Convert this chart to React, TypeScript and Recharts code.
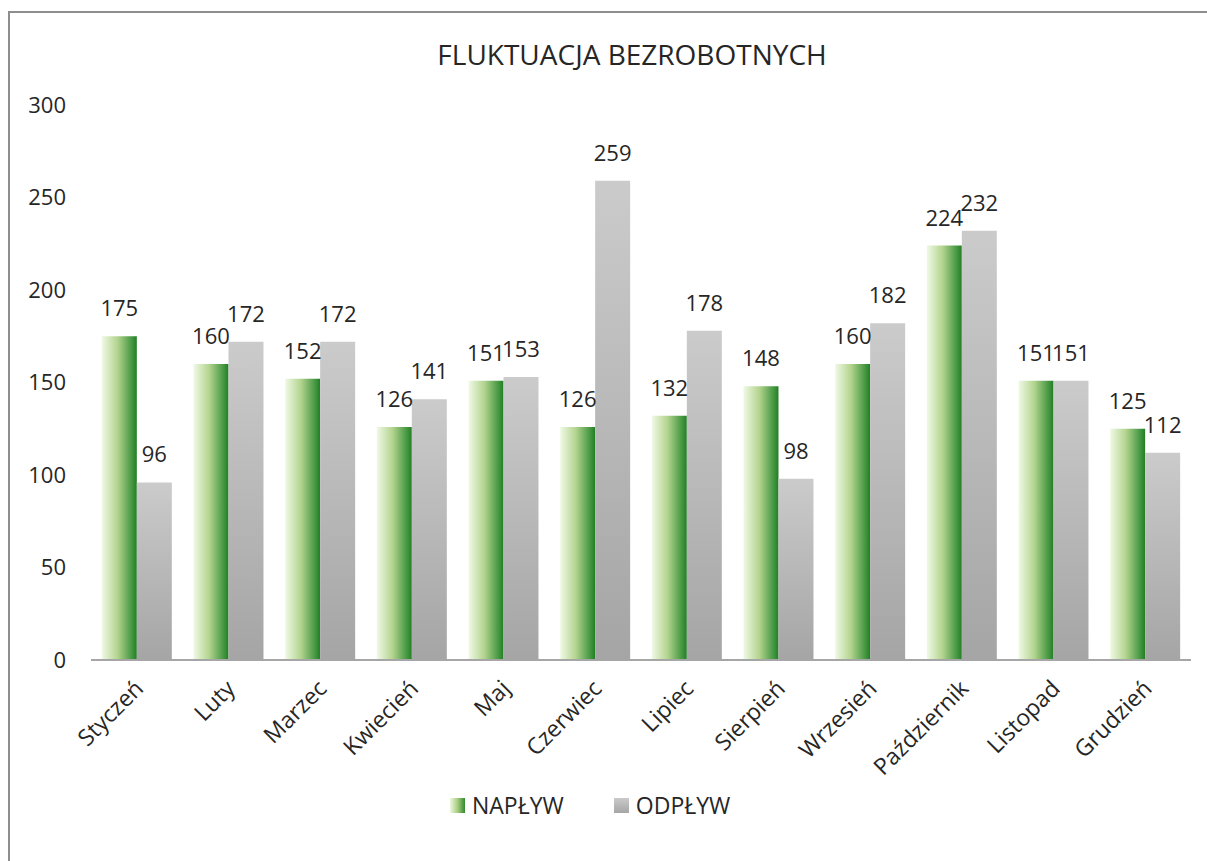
import { BarChart, Bar, XAxis, YAxis, Legend, LabelList } from "recharts"

const months = [
  "Styczeń",
  "Luty",
  "Marzec",
  "Kwiecień",
  "Maj",
  "Czerwiec",
  "Lipiec",
  "Sierpień",
  "Wrzesień",
  "Październik",
  "Listopad",
  "Grudzień",
]
const naplyw = [175, 160, 152, 126, 151, 126, 132, 148, 160, 224, 151, 125]
const odplyw = [96, 172, 172, 141, 153, 259, 178, 98, 182, 232, 151, 112]
const yTicks = [0, 50, 100, 150, 200, 250, 300]

const data = months.map((m, i) => ({ month: m, naplyw: naplyw[i], odplyw: odplyw[i] }))

const FONT = "'Open Sans', sans-serif"
const TEXT = "#262626"

const MonthTick = (props: any) => {
  const { x, y, payload } = props
  return (
    <text
      x={0}
      y={0}
      transform={`translate(${x + 8},${y + 30}) rotate(-45)`}
      textAnchor="end"
      fill={TEXT}
      fontSize={23}
      fontFamily={FONT}
    >
      {payload.value}
    </text>
  )
}

const LegendBox = () => (
  <div style={{ display: "flex", alignItems: "center", fontFamily: FONT, fontSize: 23, color: TEXT }}>
    <span
      style={{
        width: 15,
        height: 15,
        marginRight: 7,
        background: "linear-gradient(to right, #eef8e2, #a9cd80, #2e8a2e)",
      }}
    />
    <span style={{ marginRight: 50 }}>NAPŁYW</span>
    <span
      style={{
        width: 15,
        height: 15,
        marginRight: 7,
        background: "linear-gradient(to bottom, #cacaca, #a6a6a6)",
      }}
    />
    <span>ODPŁYW</span>
  </div>
)

export default function App() {
  return (
    <div
      style={{
        position: "absolute",
        left: 8,
        top: 11,
        borderTop: "2px solid #8e8e8e",
        borderLeft: "2px solid #8e8e8e",
        background: "#fff",
      }}
    >
      <BarChart
        width={1197}
        height={848}
        data={data}
        margin={{ top: 92, right: 16, bottom: 171, left: 6 }}
        barCategoryGap="11.8%"
        barGap={0}
      >
        <defs>
          <linearGradient id="gGreen" x1="0" y1="0" x2="1" y2="0">
            <stop offset="0%" stopColor="#f0f9e6" />
            <stop offset="45%" stopColor="#b3d48e" />
            <stop offset="90%" stopColor="#3a913a" />
            <stop offset="100%" stopColor="#227d22" />
          </linearGradient>
          <linearGradient id="gGray" x1="0" y1="0" x2="0" y2="1">
            <stop offset="0%" stopColor="#cbcbcb" />
            <stop offset="100%" stopColor="#a5a5a5" />
          </linearGradient>
        </defs>
        <text
          x={622}
          y={45}
          textAnchor="middle"
          dominantBaseline="middle"
          fontFamily={FONT}
          fontSize={28}
          fill={TEXT}
        >
          FLUKTUACJA BEZROBOTNYCH
        </text>
        <XAxis
          dataKey="month"
          axisLine={{ stroke: "#a6a6a6", strokeWidth: 2 }}
          tickLine={false}
          tickSize={0}
          tickMargin={0}
          interval={0}
          tick={<MonthTick />}
        />
        <YAxis
          domain={[0, 300]}
          ticks={yTicks}
          axisLine={false}
          tickLine={false}
          tickSize={0}
          tickMargin={25}
          width={75}
          tick={{ fill: TEXT, fontSize: 22, fontFamily: FONT }}
        />
        <Legend
          verticalAlign="middle"
          content={<LegendBox />}
          wrapperStyle={{ position: "absolute", top: 776, left: 440, width: "auto" }}
        />
        <Bar dataKey="naplyw" name="NAPŁYW" fill="url(#gGreen)" isAnimationActive={false}>
          <LabelList
            dataKey="naplyw"
            position="top"
            offset={20}
            fill={TEXT}
            fontSize={22}
            fontFamily={FONT}
          />
        </Bar>
        <Bar dataKey="odplyw" name="ODPŁYW" fill="url(#gGray)" isAnimationActive={false}>
          <LabelList
            dataKey="odplyw"
            position="top"
            offset={20}
            fill={TEXT}
            fontSize={22}
            fontFamily={FONT}
          />
        </Bar>
      </BarChart>
    </div>
  )
}
